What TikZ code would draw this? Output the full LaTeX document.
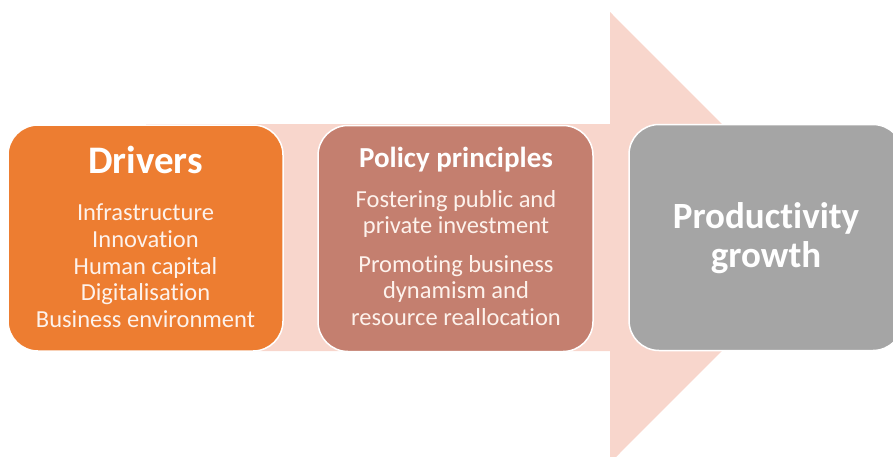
\documentclass[tikz,border=0pt]{standalone}
\usepackage{fontspec}
\setmainfont{Carlito}[Ligatures=NoCommon]
\definecolor{driverorange}{RGB}{237,125,49}
\definecolor{policyrose}{RGB}{196,127,111}
\definecolor{growthgrey}{RGB}{165,165,165}
\definecolor{arrowpink}{RGB}{248,214,204}
\definecolor{softwhite}{RGB}{253,242,236}

\tikzset{
  box/.style={draw=white, line width=1.5pt, rounded corners=30pt, minimum width=275pt, minimum height=226pt, inner sep=0pt},
  boxtitle/.style={text=white, font=\bfseries, anchor=base, inner sep=0pt},
  boxtext/.style={text=softwhite, font=\fontsize{24.5}{28}\selectfont, anchor=base, inner sep=0pt}
}

\begin{document}
\begin{tikzpicture}[x=1pt,y=-1pt]
    \useasboundingbox (0,0) rectangle (893,456);

    % Flecha grande de fondo
    \fill[arrowpink] (146,124) -- (610,124) -- (610,12) -- (835,237.5) -- (610,463) -- (610,351) -- (146,351) -- cycle;

    % Las tres cajas
    \node[box, fill=driverorange] (drivers) at (145.5,238) {};
    \node[box, fill=policyrose] (policy) at (455.5,238.5) {};
    \node[box, fill=growthgrey, minimum width=274pt] (growth) at (766,237.5) {};

    % Drivers
    \node[boxtitle, font=\bfseries\fontsize{39}{46}\selectfont] (driverstitle) at (145.5,173) {Drivers};
    \foreach \txt [count=\i] in {Infrastructure, Innovation, Human capital, Digitalisation, Business environment}
        \node[boxtext] (driver\i) at (145.5,194+26.67*\i) {\txt};

    % Policy principles
    \node[boxtitle, font=\bfseries\fontsize{29}{35}\selectfont] (policytitle) at (456,167) {Policy principles};
    \foreach \txt/\yy [count=\i] in {Fostering public and/207, private investment/233, Promoting business/272, dynamism and/298, resource reallocation/325}
        \node[boxtext] (policy\i) at (456,\yy) {\txt};

    % Productivity growth
    \node[boxtitle, font=\bfseries\fontsize{37}{41}\selectfont] (growth1) at (766,228) {Productivity};
    \node[boxtitle, font=\bfseries\fontsize{37}{41}\selectfont] (growth2) at (766,267) {growth};
\end{tikzpicture}
\end{document}
